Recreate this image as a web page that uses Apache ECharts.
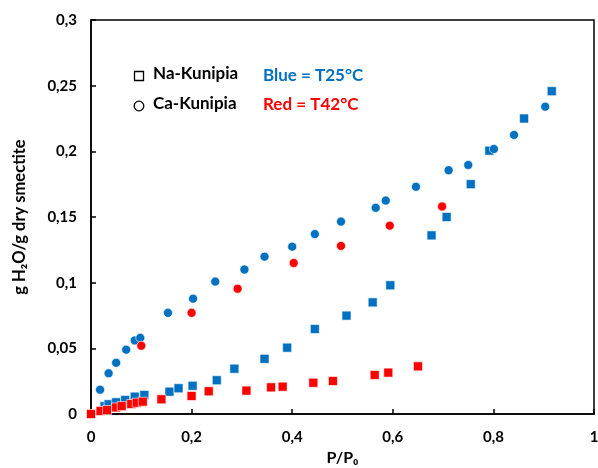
<!DOCTYPE html>
<html>
<head>
<meta charset="utf-8">
<script src="https://cdn.jsdelivr.net/npm/echarts@6/dist/echarts.min.js"></script>
<style>html,body{margin:0;padding:0;background:#fff}#c{width:598px;height:468px}</style>
</head>
<body>
<div id="c"></div>
<script>
// Na-Kunipia, 25°C (blue squares)
var naT25 = [[0.027,0.006],[0.035,0.0074],[0.050,0.0089],[0.068,0.0107],[0.087,0.0132],[0.106,0.0145],[0.156,0.017],[0.174,0.0196],[0.202,0.0215],[0.25,0.0257],[0.285,0.0345],[0.345,0.042],[0.39,0.0505],[0.445,0.0647],[0.508,0.0749],[0.560,0.085],[0.595,0.098],[0.677,0.136],[0.707,0.150],[0.755,0.175],[0.792,0.2005],[0.861,0.225],[0.916,0.2458]];
// Ca-Kunipia, 25°C (blue circles)
var caT25 = [[0.018,0.0185],[0.035,0.031],[0.050,0.039],[0.070,0.049],[0.087,0.056],[0.098,0.058],[0.153,0.077],[0.203,0.0878],[0.247,0.1008],[0.305,0.110],[0.345,0.1198],[0.400,0.1274],[0.445,0.137],[0.497,0.1465],[0.566,0.157],[0.586,0.1625],[0.646,0.173],[0.711,0.1856],[0.750,0.1896],[0.801,0.2018],[0.841,0.2125],[0.903,0.234]];
// Na-Kunipia, 42°C (red squares)
var naT42 = [[0,0],[0.019,0.0023],[0.032,0.003],[0.050,0.005],[0.061,0.006],[0.080,0.0076],[0.091,0.0086],[0.103,0.0094],[0.140,0.0112],[0.2,0.0137],[0.234,0.0173],[0.309,0.0178],[0.358,0.0203],[0.381,0.0208],[0.442,0.0238],[0.481,0.0251],[0.564,0.0297],[0.591,0.0315],[0.650,0.0363]];
// Ca-Kunipia, 42°C (red circles)
var caT42 = [[0.10,0.052],[0.2,0.077],[0.2915,0.0954],[0.403,0.115],[0.497,0.128],[0.594,0.1434],[0.698,0.158]];

var xTitle = 'P/P₀';
var yTitle = 'g H₂O/g dry smectite';
var legendNames = ['Na-Kunipia', 'Ca-Kunipia'];
var tempNotes = ['Blue = T25°C', 'Red = T42°C'];

var BLUE = '#0070C0', RED = '#FF0000';
var FONT = 'Lato, "Open Sans", sans-serif';
function fmt(v){ return String(v).replace('.', ','); }

var chart = echarts.init(document.getElementById('c'));
function sc(name, data, symbol, color){
  return {name:name, type:'scatter', data:data, symbol:symbol, symbolSize:9,
    itemStyle:{color:color, borderColor:'#fff', borderWidth:0.6, opacity:1}, z:2};
}
chart.setOption({
  animation:false,
  backgroundColor:'#fff',
  grid:{left:91, right:4, top:20, bottom:54, containLabel:false, outerBoundsMode:'none',
    show:true, borderColor:'#000', borderWidth:1.5, backgroundColor:'transparent'},
  xAxis:{type:'value', min:0, max:1, interval:0.2,
    name:xTitle, nameLocation:'middle', nameGap:35,
    nameTextStyle:{fontFamily:FONT, fontWeight:'bold', fontSize:16, color:'#000'},
    axisLine:{show:true, lineStyle:{color:'#000', width:1.5}},
    axisTick:{show:true, inside:true, length:5, lineStyle:{color:'#000', width:1.5}},
    splitLine:{show:false},
    axisLabel:{margin:16, fontFamily:FONT, fontWeight:'bold', fontSize:15, color:'#000', formatter:fmt}},
  yAxis:{type:'value', min:0, max:0.3, interval:0.05,
    name:yTitle, nameLocation:'middle', nameGap:63, nameRotate:90,
    nameTextStyle:{fontFamily:FONT, fontWeight:'bold', fontSize:16.5, color:'#000'},
    axisLine:{show:true, lineStyle:{color:'#000', width:1.5}},
    axisTick:{show:true, inside:true, length:5, lineStyle:{color:'#000', width:1.5}},
    splitLine:{show:false},
    axisLabel:{margin:14, fontFamily:FONT, fontWeight:'bold', fontSize:15, color:'#000', formatter:fmt}},
  graphic:[
    {type:'rect', shape:{x:134.5, y:71.5, width:9, height:9}, style:{fill:'none', stroke:'#000', lineWidth:1.3}},
    {type:'circle', shape:{cx:139, cy:106, r:4.8}, style:{fill:'none', stroke:'#000', lineWidth:1.3}},
    {type:'text', left:153, top:65, style:{text:legendNames[0], font:'bold 17px '+FONT, fill:'#000'}},
    {type:'text', left:153, top:95, style:{text:legendNames[1], font:'bold 17px '+FONT, fill:'#000'}},
    {type:'text', left:263, top:67, style:{text:tempNotes[0], font:'bold 17px '+FONT, fill:BLUE}},
    {type:'text', left:263, top:96, style:{text:tempNotes[1], font:'bold 17px '+FONT, fill:RED}}
  ],
  series:[
    sc('Na-Kunipia T25', naT25, 'rect', BLUE),
    sc('Ca-Kunipia T25', caT25, 'circle', BLUE),
    sc('Na-Kunipia T42', naT42, 'rect', RED),
    sc('Ca-Kunipia T42', caT42, 'circle', RED)
  ]
});
</script>
</body>
</html>
